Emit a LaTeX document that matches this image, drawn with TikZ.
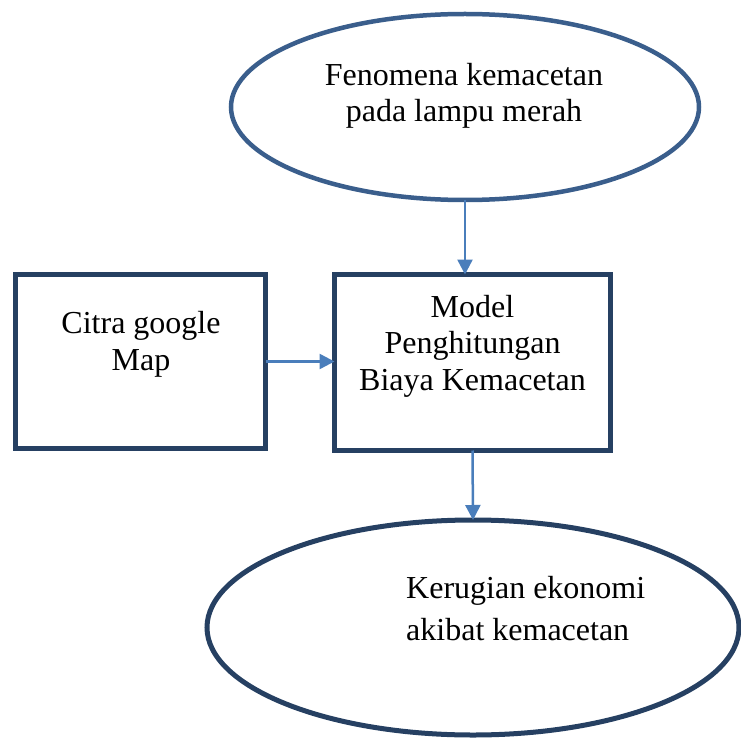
\documentclass[tikz,border=0pt]{standalone}
\usepackage{fontspec}
\setmainfont{Liberation Serif}
\usetikzlibrary{shapes.geometric,arrows.meta}
\definecolor{ellA}{RGB}{58,94,140}
\definecolor{navy}{RGB}{38,64,98}
\definecolor{arr}{RGB}{74,126,187}
\begin{document}
\begin{tikzpicture}[x=1pt,y=-1pt,
  ovalA/.style={ellipse,draw=ellA,line width=4.5pt,inner sep=0pt,outer sep=0pt},
  ovalB/.style={ellipse,draw=navy,line width=5pt,inner sep=0pt,outer sep=0pt},
  boxstyle/.style={rectangle,draw=navy,line width=5.5pt,inner sep=0pt,outer sep=0pt},
  txt/.style={font=\fontsize{32}{36.5}\selectfont,inner sep=0pt,anchor=base},
  conn/.style={draw=arr,line width=2.5pt,-{Triangle[length=15pt,width=15pt]}}]
\clip (0,0) rectangle (741,738);
\node[ovalA,minimum width=468pt,minimum height=186pt] (top) at (465,107) {};
\node[boxstyle,minimum width=250pt,minimum height=174pt] (left) at (140.5,361.5) {};
\node[boxstyle,minimum width=276pt,minimum height=176pt] (mid) at (472.5,362.5) {};
\node[ovalB,minimum width=532pt,minimum height=215pt] (bot) at (473,627.5) {};
\node[txt,align=center] (toptxt) at (464,122) {Fenomena kemacetan\\pada lampu merah};
\node[txt,align=center] (lefttxt) at (141,370) {Citra google\\Map};
\node[txt,align=center] (midtxt) at (472.5,390) {Model\\Penghitungan\\Biaya Kemacetan};
\node[txt,align=left,font=\fontsize{32}{41.5}\selectfont] (bottxt) at (406,640) [anchor=base west] {Kerugian ekonomi\\akibat kemacetan};
\draw[conn] (top.south) -- (top.south |- mid.north);
\draw[conn] (left.east) -- (left.east -| mid.west);
\draw[conn] (mid.south) -- (bot.north);
\end{tikzpicture}
\end{document}
